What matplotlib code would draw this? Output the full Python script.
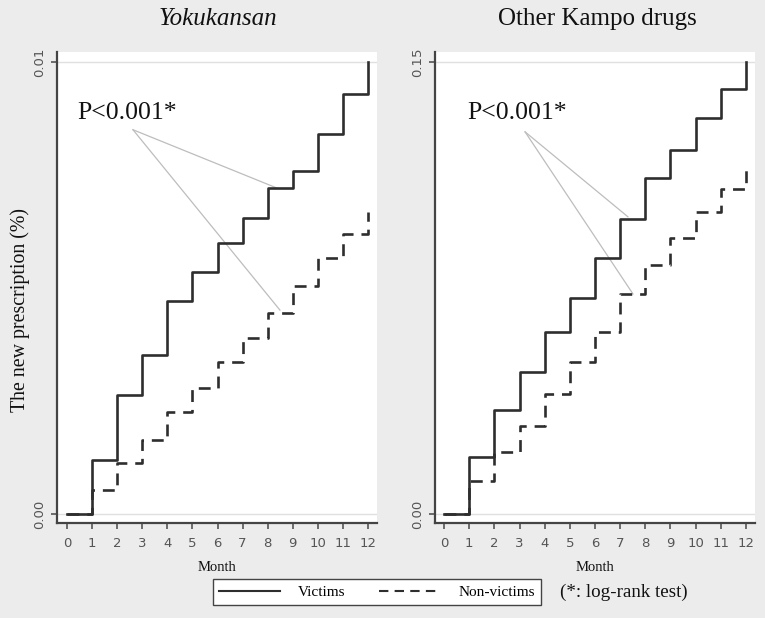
import matplotlib
matplotlib.use("Agg")
import matplotlib.pyplot as plt
from matplotlib.lines import Line2D

months = list(range(13))
month_ticks = list(range(13))

# Yokukansan (%)
yoku_victims = [0.0, 0.00119, 0.00263, 0.00352, 0.00471, 0.00535, 0.00600,
                0.00655, 0.00721, 0.00759, 0.00841, 0.00929, 0.01000]
yoku_nonvictims = [0.0, 0.00053, 0.00113, 0.00164, 0.00226, 0.00279, 0.00336,
                   0.00389, 0.00445, 0.00504, 0.00566, 0.00619, 0.00668]
# Other Kampo drugs (%)
kampo_victims = [0.0, 0.0189, 0.0345, 0.0471, 0.0604, 0.0717, 0.0850,
                 0.0979, 0.1115, 0.1208, 0.1314, 0.1410, 0.1500]
kampo_nonvictims = [0.0, 0.0110, 0.0206, 0.0292, 0.0398, 0.0504, 0.0604,
                    0.0730, 0.0826, 0.0916, 0.1002, 0.1079, 0.1152]

titles = ["Yokukansan", "Other Kampo drugs"]
ytick_vals = [[0.0, 0.01], [0.0, 0.15]]
ytick_labels = [["0.00", "0.01"], ["0.00", "0.15"]]
p_text = "P<0.001*"
legend_labels = ["Victims", "Non-victims"]
note_text = "(*: log-rank test)"

W, H = 765, 618
BG = "#ececec"
LINE = "#2e2e2e"
fig = plt.figure(figsize=(W / 100, H / 100), dpi=100, facecolor=BG)

serif = ["Liberation Serif", "DejaVu Serif"]


def pax(x0, y0, x1, y1):
    return fig.add_axes([x0 / W, 1 - y1 / H, (x1 - x0) / W, (y1 - y0) / H])


panels = [
    dict(box=(57, 52, 377, 523), xlim=(-0.4, 12.36), ylim=(-0.0002, 0.01022),
         vic=yoku_victims, non=yoku_nonvictims, italic=True,
         text_xy=(0.4, 0.00887), start=(2.63, 0.0085),
         ends=[(8.37, 0.00721), (8.49, 0.00451)]),
    dict(box=(435, 52, 755, 523), xlim=(-0.36, 12.36), ylim=(-0.003, 0.1533),
         vic=kampo_victims, non=kampo_nonvictims, italic=False,
         text_xy=(0.91, 0.133), start=(3.22, 0.1268),
         ends=[(7.31, 0.0986), (7.51, 0.073)]),
]

for i, p in enumerate(panels):
    ax = pax(*p["box"])
    ax.set_facecolor("white")
    ax.set_xlim(*p["xlim"])
    ax.set_ylim(*p["ylim"])
    for s in ("top", "right"):
        ax.spines[s].set_visible(False)
    for s in ("left", "bottom"):
        ax.spines[s].set_color("#444444")
        ax.spines[s].set_linewidth(1.6)
    ax.set_xticks(month_ticks)
    ax.set_xticklabels([str(m) for m in month_ticks])
    ax.set_yticks(ytick_vals[i])
    ax.set_yticklabels(ytick_labels[i], rotation=90, va="center")
    ax.tick_params(axis="both", direction="out", length=4, width=1.2,
                   color="#555555", labelcolor="#555555", labelsize=9.5, pad=4)
    ax.tick_params(axis="x", pad=6)
    for yv in ytick_vals[i]:
        ax.axhline(yv, color="#e0e0e0", lw=1.0, zorder=0)
    ax.plot(months, p["vic"], drawstyle="steps-post", color=LINE, lw=1.9,
            zorder=3)
    ax.plot(months, p["non"], drawstyle="steps-post", color=LINE, lw=1.9,
            dashes=(4.5, 3), zorder=3)
    for ex, ey in p["ends"]:
        ax.plot([p["start"][0], ex], [p["start"][1], ey], color="#bdbdbd",
                lw=0.9, zorder=2)
    ax.text(p["text_xy"][0], p["text_xy"][1], p_text, family=serif,
            fontsize=18.5, va="center", ha="left", color="#111111")
    ax.set_xlabel("Month", family=serif, fontsize=10.5, labelpad=8,
                  color="#111111")

# titles
fig.text(218 / W, 1 - 19 / H, titles[0], family=serif, fontsize=18,
         style="italic", ha="center", va="center", color="#111111")
fig.text(597 / W, 1 - 19 / H, titles[1], family=serif, fontsize=18,
         ha="center", va="center", color="#111111")

# y label
fig.text(20 / W, 1 - 310 / H, "The new prescription (%)", family=serif,
         fontsize=14.3, rotation=90, ha="center", va="center",
         color="#111111")

# legend
handles = [Line2D([], [], color=LINE, lw=1.5),
           Line2D([], [], color=LINE, lw=1.5, dashes=(4.5, 3))]
leg = fig.legend(handles, legend_labels, loc="center",
                 bbox_to_anchor=(377 / W, 1 - 592 / H), ncol=2,
                 frameon=True, fancybox=False, edgecolor="#444444",
                 facecolor="white", framealpha=1, handlelength=4,
                 columnspacing=2.2, handletextpad=1.2,
                 prop=dict(family=serif, size=11), borderpad=0.4)
leg.get_frame().set_linewidth(1.0)
fig.text(560 / W, 1 - 592 / H, note_text, family=serif, fontsize=13.7,
         va="center", ha="left", color="#111111")

fig.savefig("out.png", dpi=100, facecolor=BG)
